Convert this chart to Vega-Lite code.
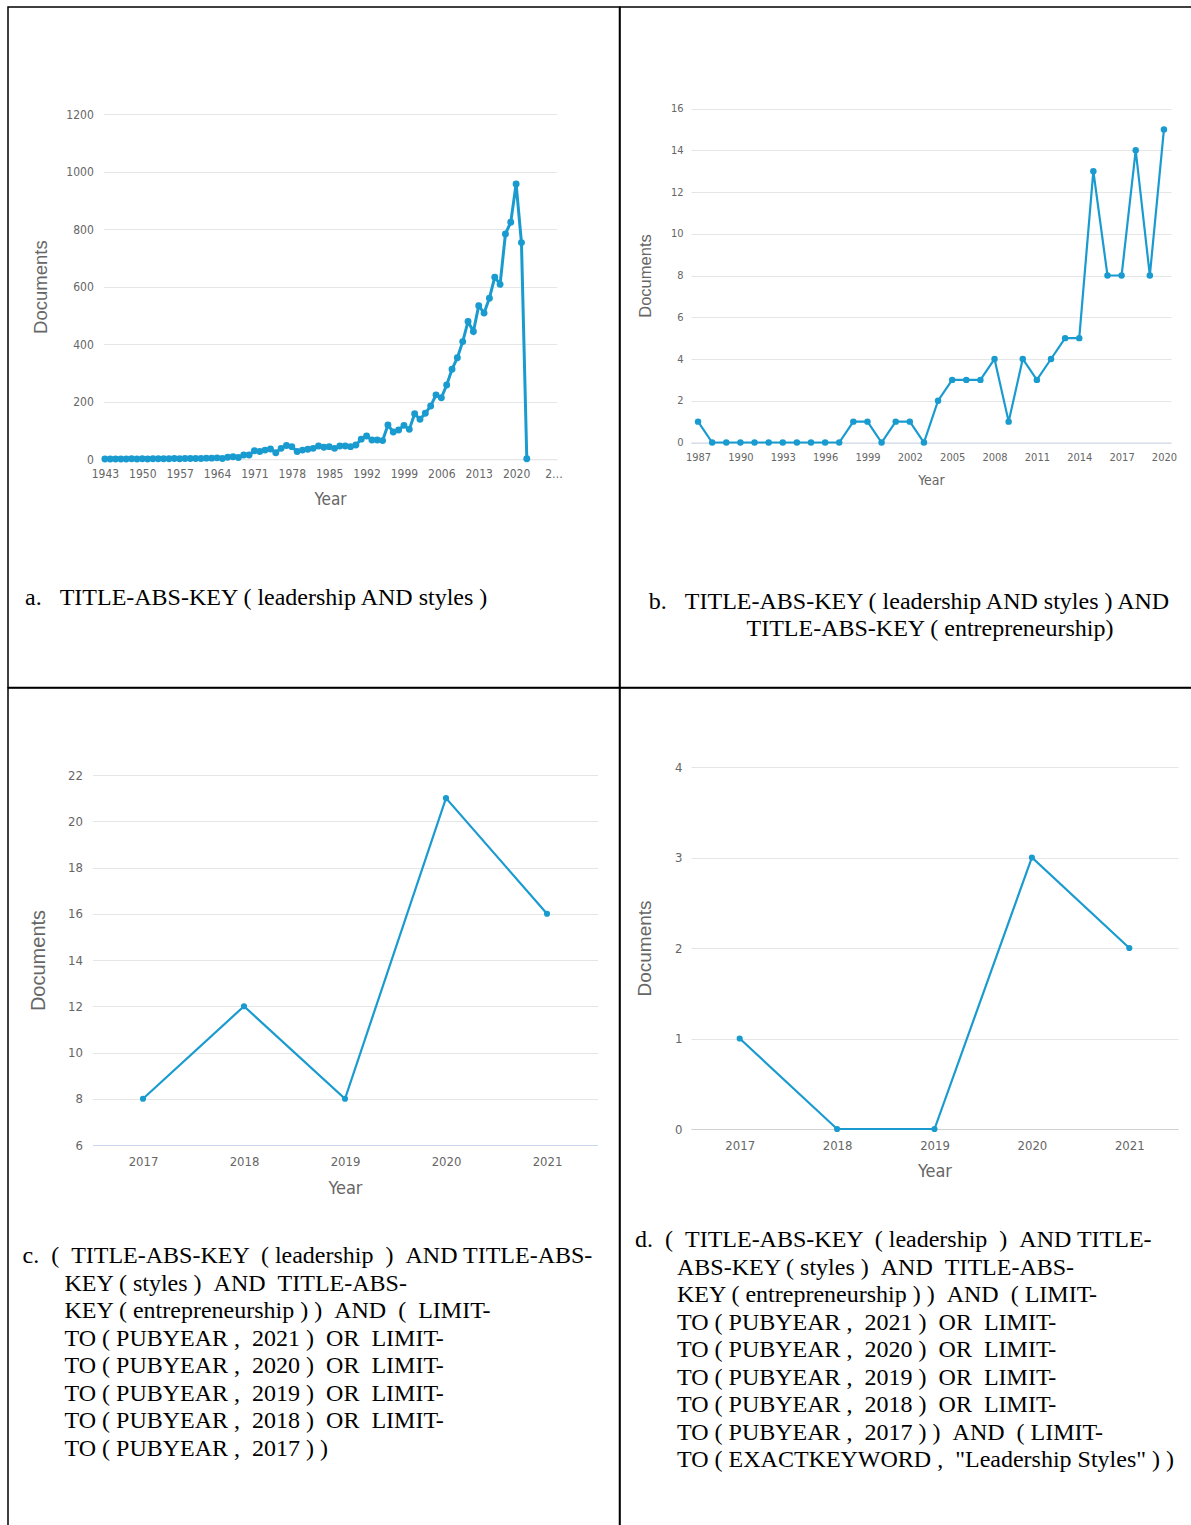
{
  "$schema": "https://vega.github.io/schema/vega-lite/v6.json",
  "background": "white",
  "padding": {"left": 7, "top": 6, "right": 0, "bottom": 0},
  "columns": 2,
  "spacing": 0,
  "bounds": "flush",
  "config": {
    "view": {"stroke": "black", "strokeWidth": 1.5},
    "axis": {
      "labelColor": "#666666",
      "titleColor": "#666666",
      "titleFontWeight": "normal",
      "labelFont": "Liberation Sans Narrow, DejaVu Sans Condensed, Roboto Condensed, Liberation Sans",
      "titleFont": "Liberation Sans Narrow, DejaVu Sans Condensed, Roboto Condensed, Liberation Sans",
      "gridColor": "#e6e6e6",
      "gridWidth": 1
    },
    "title": {
      "font": "Liberation Serif",
      "fontSize": 24,
      "fontWeight": "normal",
      "color": "black",
      "lineHeight": 27.5,
      "baseline": "top"
    }
  },
  "concat": [
    {
      "width": 611.5,
      "height": 680.5,
      "title": {
        "text": ["a.\u00a0\u00a0\u00a0TITLE-ABS-KEY ( leadership AND styles )"],
        "orient": "bottom", "anchor": "start", "frame": "group",
        "offset": -102, "dx": 17
      },
      "data": {"values": [
        {"year": 1943, "docs": 1}, {"year": 1944, "docs": 1}, {"year": 1945, "docs": 1}, {"year": 1946, "docs": 1},
        {"year": 1947, "docs": 1}, {"year": 1948, "docs": 2}, {"year": 1949, "docs": 1}, {"year": 1950, "docs": 2},
        {"year": 1951, "docs": 1}, {"year": 1952, "docs": 2}, {"year": 1953, "docs": 2}, {"year": 1954, "docs": 2},
        {"year": 1955, "docs": 2}, {"year": 1956, "docs": 3}, {"year": 1957, "docs": 2}, {"year": 1958, "docs": 3},
        {"year": 1959, "docs": 3}, {"year": 1960, "docs": 3}, {"year": 1961, "docs": 3}, {"year": 1962, "docs": 4},
        {"year": 1963, "docs": 4}, {"year": 1964, "docs": 5}, {"year": 1965, "docs": 3}, {"year": 1966, "docs": 7},
        {"year": 1967, "docs": 9}, {"year": 1968, "docs": 6}, {"year": 1969, "docs": 15}, {"year": 1970, "docs": 15},
        {"year": 1971, "docs": 30}, {"year": 1972, "docs": 27}, {"year": 1973, "docs": 32}, {"year": 1974, "docs": 36},
        {"year": 1975, "docs": 23}, {"year": 1976, "docs": 38}, {"year": 1977, "docs": 48}, {"year": 1978, "docs": 44},
        {"year": 1979, "docs": 27}, {"year": 1980, "docs": 32}, {"year": 1981, "docs": 35}, {"year": 1982, "docs": 38},
        {"year": 1983, "docs": 46}, {"year": 1984, "docs": 42}, {"year": 1985, "docs": 44}, {"year": 1986, "docs": 38},
        {"year": 1987, "docs": 46}, {"year": 1988, "docs": 46}, {"year": 1989, "docs": 44}, {"year": 1990, "docs": 50},
        {"year": 1991, "docs": 70}, {"year": 1992, "docs": 81}, {"year": 1993, "docs": 67}, {"year": 1994, "docs": 67},
        {"year": 1995, "docs": 65}, {"year": 1996, "docs": 119}, {"year": 1997, "docs": 95}, {"year": 1998, "docs": 102},
        {"year": 1999, "docs": 118}, {"year": 2000, "docs": 104}, {"year": 2001, "docs": 158}, {"year": 2002, "docs": 139},
        {"year": 2003, "docs": 160}, {"year": 2004, "docs": 185}, {"year": 2005, "docs": 224}, {"year": 2006, "docs": 214},
        {"year": 2007, "docs": 258}, {"year": 2008, "docs": 313}, {"year": 2009, "docs": 353}, {"year": 2010, "docs": 409},
        {"year": 2011, "docs": 479}, {"year": 2012, "docs": 444}, {"year": 2013, "docs": 534}, {"year": 2014, "docs": 508},
        {"year": 2015, "docs": 560}, {"year": 2016, "docs": 633}, {"year": 2017, "docs": 608}, {"year": 2018, "docs": 783},
        {"year": 2019, "docs": 824}, {"year": 2020, "docs": 957}, {"year": 2021, "docs": 753}, {"year": 2022, "docs": 2}
      ]},
      "mark": {"type": "line", "color": "#1a9bd0", "strokeWidth": 3, "point": {"filled": true, "size": 48, "color": "#1a9bd0"}},
      "encoding": {
        "x": {
          "field": "year", "type": "quantitative",
          "scale": {"domain": [1942.7, 2027.6], "range": [95.3, 548.7], "nice": false, "zero": false},
          "axis": {
            "values": [1943, 1950, 1957, 1964, 1971, 1978, 1985, 1992, 1999, 2006, 2013, 2020, 2027],
            "format": "d",
            "labelExpr": "datum.value == 2027 ? '2…' : datum.label",
            "offset": -228.2, "labelPadding": 9, "labelFontSize": 12,
            "ticks": false, "grid": false, "domainColor": "#e6e6e6",
            "title": "Year", "titleFontSize": 17, "titleY": 40, "titleBaseline": "middle"
          }
        },
        "y": {
          "field": "docs", "type": "quantitative",
          "scale": {"domain": [0, 1200], "range": [452.3, 107], "nice": false, "zero": false},
          "axis": {
            "values": [0, 200, 400, 600, 800, 1000, 1200],
            "format": "d",
            "offset": -95.3, "labelPadding": 10, "labelFontSize": 12,
            "ticks": false, "domain": false, "grid": true,
            "title": "Documents", "titleFont": "Liberation Sans", "titleFontSize": 18.5, "titleX": -62.8, "titleBaseline": "middle"
          }
        }
      }
    },
    {
      "width": 574,
      "height": 680.5,
      "title": {
        "text": ["b.\u00a0\u00a0\u00a0TITLE-ABS-KEY ( leadership AND styles ) AND", "\u200b\u00a0\u00a0\u00a0\u00a0\u00a0\u00a0\u00a0TITLE-ABS-KEY ( entrepreneurship)"],
        "orient": "bottom", "anchor": "middle", "frame": "group",
        "offset": -98, "dx": 2
      },
      "data": {"values": [
        {"year": 1987, "docs": 1}, {"year": 1988, "docs": 0}, {"year": 1989, "docs": 0}, {"year": 1990, "docs": 0},
        {"year": 1991, "docs": 0}, {"year": 1992, "docs": 0}, {"year": 1993, "docs": 0}, {"year": 1994, "docs": 0},
        {"year": 1995, "docs": 0}, {"year": 1996, "docs": 0}, {"year": 1997, "docs": 0}, {"year": 1998, "docs": 1},
        {"year": 1999, "docs": 1}, {"year": 2000, "docs": 0}, {"year": 2001, "docs": 1}, {"year": 2002, "docs": 1},
        {"year": 2003, "docs": 0}, {"year": 2004, "docs": 2}, {"year": 2005, "docs": 3}, {"year": 2006, "docs": 3},
        {"year": 2007, "docs": 3}, {"year": 2008, "docs": 4}, {"year": 2009, "docs": 1}, {"year": 2010, "docs": 4},
        {"year": 2011, "docs": 3}, {"year": 2012, "docs": 4}, {"year": 2013, "docs": 5}, {"year": 2014, "docs": 5},
        {"year": 2015, "docs": 13}, {"year": 2016, "docs": 8}, {"year": 2017, "docs": 8}, {"year": 2018, "docs": 14},
        {"year": 2019, "docs": 8}, {"year": 2020, "docs": 15}
      ]},
      "mark": {"type": "line", "color": "#1a9bd0", "strokeWidth": 2.2, "point": {"filled": true, "size": 42, "color": "#1a9bd0"}},
      "encoding": {
        "x": {
          "field": "year", "type": "quantitative",
          "scale": {"domain": [1986.5, 2020.5], "range": [71, 551], "nice": false, "zero": false},
          "axis": {
            "values": [1987, 1990, 1993, 1996, 1999, 2002, 2005, 2008, 2011, 2014, 2017, 2020],
            "format": "d",
            "offset": -245, "labelPadding": 9, "labelFontSize": 11,
            "ticks": false, "grid": false, "domainColor": "#ccd6eb",
            "title": "Year", "titleFontSize": 14, "titleY": 38, "titleBaseline": "middle"
          }
        },
        "y": {
          "field": "docs", "type": "quantitative",
          "scale": {"domain": [0, 16], "range": [435.5, 101.5], "nice": false, "zero": false},
          "axis": {
            "values": [0, 2, 4, 6, 8, 10, 12, 14, 16],
            "offset": -71, "labelPadding": 8, "labelFontSize": 11,
            "ticks": false, "domain": false, "grid": true,
            "title": "Documents", "titleFont": "Liberation Sans", "titleFontSize": 16.5, "titleX": -46, "titleBaseline": "middle"
          }
        }
      }
    },
    {
      "width": 611.5,
      "height": 845,
      "title": {
        "text": [
          "c.\u00a0\u00a0( \u00a0TITLE-ABS-KEY \u00a0( leadership \u00a0) \u00a0AND TITLE-ABS-",
          "\u200b\u00a0\u00a0\u00a0\u00a0\u00a0\u00a0\u00a0KEY ( styles ) \u00a0AND \u00a0TITLE-ABS-",
          "\u200b\u00a0\u00a0\u00a0\u00a0\u00a0\u00a0\u00a0KEY ( entrepreneurship ) ) \u00a0AND \u00a0( \u00a0LIMIT-",
          "\u200b\u00a0\u00a0\u00a0\u00a0\u00a0\u00a0\u00a0TO ( PUBYEAR , \u00a02021 ) \u00a0OR \u00a0LIMIT-",
          "\u200b\u00a0\u00a0\u00a0\u00a0\u00a0\u00a0\u00a0TO ( PUBYEAR , \u00a02020 ) \u00a0OR \u00a0LIMIT-",
          "\u200b\u00a0\u00a0\u00a0\u00a0\u00a0\u00a0\u00a0TO ( PUBYEAR , \u00a02019 ) \u00a0OR \u00a0LIMIT-",
          "\u200b\u00a0\u00a0\u00a0\u00a0\u00a0\u00a0\u00a0TO ( PUBYEAR , \u00a02018 ) \u00a0OR \u00a0LIMIT-",
          "\u200b\u00a0\u00a0\u00a0\u00a0\u00a0\u00a0\u00a0TO ( PUBYEAR , \u00a02017 ) )"
        ],
        "orient": "bottom", "anchor": "start", "frame": "group",
        "offset": -288.75, "dx": 14.5
      },
      "data": {"values": [
        {"year": 2017, "docs": 8}, {"year": 2018, "docs": 12}, {"year": 2019, "docs": 8},
        {"year": 2020, "docs": 21}, {"year": 2021, "docs": 16}
      ]},
      "mark": {"type": "line", "color": "#1a9bd0", "strokeWidth": 2.2, "point": {"filled": true, "size": 38, "color": "#1a9bd0"}},
      "encoding": {
        "x": {
          "field": "year", "type": "quantitative",
          "scale": {"domain": [2016.5, 2021.5], "range": [84.5, 589.5], "nice": false, "zero": false},
          "axis": {
            "values": [2017, 2018, 2019, 2020, 2021],
            "format": "d",
            "offset": -388, "labelPadding": 10, "labelFontSize": 13,
            "ticks": false, "grid": false, "domainColor": "#ccd6eb",
            "title": "Year", "titleFontSize": 18, "titleY": 43, "titleBaseline": "middle"
          }
        },
        "y": {
          "field": "docs", "type": "quantitative",
          "scale": {"domain": [6, 22], "range": [457, 87], "nice": false, "zero": false},
          "axis": {
            "values": [6, 8, 10, 12, 14, 16, 18, 20, 22],
            "offset": -84.5, "labelPadding": 10, "labelFontSize": 13,
            "ticks": false, "domain": false, "grid": true,
            "title": "Documents", "titleFont": "Liberation Sans", "titleFontSize": 20, "titleX": -54, "titleBaseline": "middle"
          }
        }
      }
    },
    {
      "width": 574,
      "height": 845,
      "title": {
        "text": [
          "d.\u00a0\u00a0( \u00a0TITLE-ABS-KEY \u00a0( leadership \u00a0) \u00a0AND TITLE-",
          "\u200b\u00a0\u00a0\u00a0\u00a0\u00a0\u00a0\u00a0ABS-KEY ( styles ) \u00a0AND \u00a0TITLE-ABS-",
          "\u200b\u00a0\u00a0\u00a0\u00a0\u00a0\u00a0\u00a0KEY ( entrepreneurship ) ) \u00a0AND \u00a0( LIMIT-",
          "\u200b\u00a0\u00a0\u00a0\u00a0\u00a0\u00a0\u00a0TO ( PUBYEAR , \u00a02021 ) \u00a0OR \u00a0LIMIT-",
          "\u200b\u00a0\u00a0\u00a0\u00a0\u00a0\u00a0\u00a0TO ( PUBYEAR , \u00a02020 ) \u00a0OR \u00a0LIMIT-",
          "\u200b\u00a0\u00a0\u00a0\u00a0\u00a0\u00a0\u00a0TO ( PUBYEAR , \u00a02019 ) \u00a0OR \u00a0LIMIT-",
          "\u200b\u00a0\u00a0\u00a0\u00a0\u00a0\u00a0\u00a0TO ( PUBYEAR , \u00a02018 ) \u00a0OR \u00a0LIMIT-",
          "\u200b\u00a0\u00a0\u00a0\u00a0\u00a0\u00a0\u00a0TO ( PUBYEAR , \u00a02017 ) ) \u00a0AND \u00a0( LIMIT-",
          "\u200b\u00a0\u00a0\u00a0\u00a0\u00a0\u00a0\u00a0TO ( EXACTKEYWORD , \u00a0\"Leadership Styles\" ) )"
        ],
        "orient": "bottom", "anchor": "start", "frame": "group",
        "offset": -304.75, "dx": 15
      },
      "data": {"values": [
        {"year": 2017, "docs": 1}, {"year": 2018, "docs": 0}, {"year": 2019, "docs": 0},
        {"year": 2020, "docs": 3}, {"year": 2021, "docs": 2}
      ]},
      "mark": {"type": "line", "color": "#1a9bd0", "strokeWidth": 2.2, "point": {"filled": true, "size": 38, "color": "#1a9bd0"}},
      "encoding": {
        "x": {
          "field": "year", "type": "quantitative",
          "scale": {"domain": [2016.5, 2021.5], "range": [71, 558], "nice": false, "zero": false},
          "axis": {
            "values": [2017, 2018, 2019, 2020, 2021],
            "format": "d",
            "offset": -404, "labelPadding": 10, "labelFontSize": 13,
            "ticks": false, "grid": false, "domainColor": "#d0d0d0",
            "title": "Year", "titleFontSize": 18, "titleY": 42, "titleBaseline": "middle"
          }
        },
        "y": {
          "field": "docs", "type": "quantitative",
          "scale": {"domain": [0, 4], "range": [441, 79], "nice": false, "zero": false},
          "axis": {
            "values": [0, 1, 2, 3, 4],
            "offset": -71, "labelPadding": 9, "labelFontSize": 13,
            "ticks": false, "domain": false, "grid": true,
            "title": "Documents", "titleFont": "Liberation Sans", "titleFontSize": 19, "titleX": -47, "titleBaseline": "middle"
          }
        }
      }
    }
  ]
}
